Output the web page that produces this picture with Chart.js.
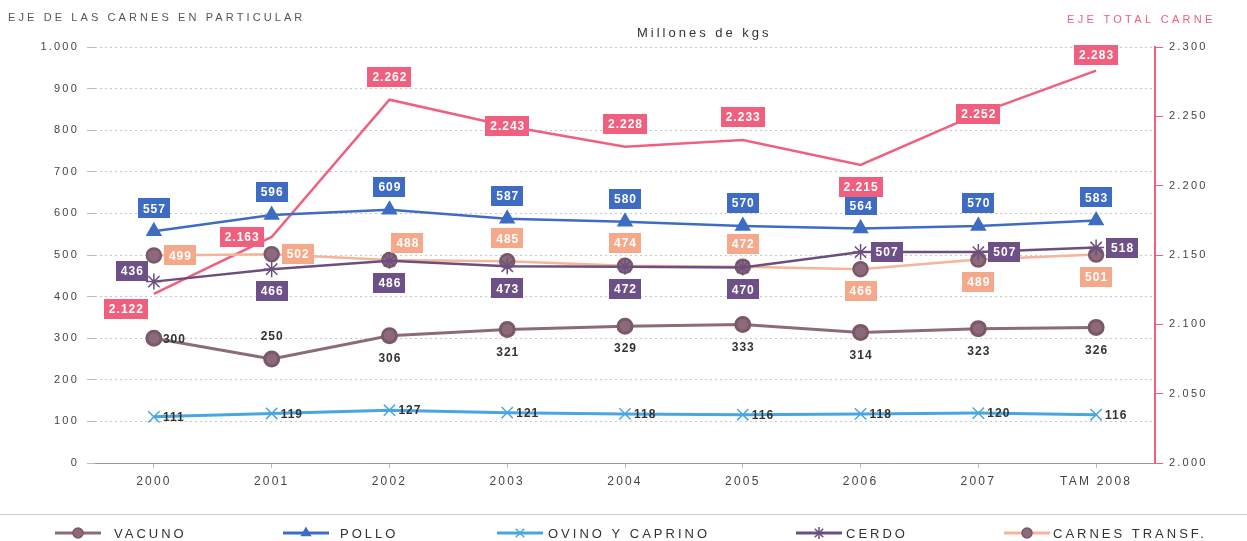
<!DOCTYPE html>
<html>
<head>
<meta charset="utf-8">
<script src="https://cdn.jsdelivr.net/npm/chart.js@4/dist/chart.umd.min.js"></script>
<style>
  html, body { margin: 0; padding: 0; background: #fff; }
  #wrap { width: 1247px; height: 541px; position: relative; }
</style>
</head>
<body>
<div id="wrap"><canvas id="mycanvas" width="1247" height="541"></canvas></div>
<script>
// categories and values
var years = ['2000', '2001', '2002', '2003', '2004', '2005', '2006', '2007', 'TAM 2008'];
var vacuno = [300, 250, 306, 321, 329, 333, 314, 323, 326];
var pollo = [557, 596, 609, 587, 580, 570, 564, 570, 583];
var ovino = [111, 119, 127, 121, 118, 116, 118, 120, 116];
var cerdo = [436, 466, 486, 473, 472, 470, 507, 507, 518];
var transf = [499, 502, 488, 485, 474, 472, 466, 489, 501];
var totalCarne = [2122, 2163, 2262, 2243, 2228, 2233, 2215, 2252, 2283];
var leftTicks = [0, 100, 200, 300, 400, 500, 600, 700, 800, 900, 1000];
var rightTicks = [2000, 2050, 2100, 2150, 2200, 2250, 2300];

// where each value label sits next to its point
var posVacuno = ['right', 'above', 'below', 'below', 'below', 'below', 'below', 'below', 'below'];
var posPollo = ['above', 'above', 'above', 'above', 'above', 'above', 'above', 'above', 'above'];
var posOvino = ['right', 'right', 'right', 'right', 'right', 'right', 'right', 'right', 'right'];
var posCerdo = ['leftUp', 'below', 'below', 'below', 'below', 'below', 'right', 'right', 'right'];
var posTransf = ['right', 'right', 'aboveR', 'above', 'above', 'above', 'below', 'below', 'below'];
var posTotal = ['belowL', 'left', 'above', 'center', 'above', 'above', 'below', 'center', 'upper'];

// legend placement (line start, text start)
var legendLineX = [55, 283, 497, 796, 1004];
var legendTextX = [114, 340, 548, 846, 1053];

function fmt(v) {
	return String(v).replace(/\B(?=(\d{3})+(?!\d))/g, '.');
}

var FONT = '"Liberation Sans", Arial, sans-serif';

var spacing = {
	id: 'spacing',
	beforeDraw: function(chart) {
		chart.ctx.letterSpacing = '2.2px';
	}
};

var valueLabels = {
	id: 'valueLabels',
	afterDatasetsDraw: function(chart) {
		var ctx = chart.ctx;
		ctx.save();
		ctx.letterSpacing = '1px';
		chart.data.datasets.forEach(function(ds, di) {
			var lc = ds.lbl;
			if (!lc) return;
			var meta = chart.getDatasetMeta(di);
			meta.data.forEach(function(pt, i) {
				var txt = fmt(ds.data[i]);
				ctx.font = 'bold 12px ' + FONT;
				var w = ctx.measureText(txt).width + 9;
				var h = 20;
				var x = pt.x, y = pt.y;
				var p = lc.pos[i];
				if (p === 'above') y -= 23;
				else if (p === 'upper') y -= 16;
				else if (p === 'below') y += 22;
				else if (p === 'right') x += w / 2 + 10;
				else if (p === 'left') x -= w / 2 + 8;
				else if (p === 'leftUp') { x -= w / 2 + 6; y -= 11; }
				else if (p === 'aboveR') { x += 18; y -= 17; }
				else if (p === 'belowL') { x -= 28; y += 15; }
				if (lc.box) {
					ctx.fillStyle = lc.box;
					ctx.fillRect(Math.round(x - w / 2), Math.round(y - h / 2), Math.round(w), h);
					ctx.fillStyle = '#fff';
				} else {
					ctx.fillStyle = '#333';
					if (p === 'right') x -= 6;
				}
				ctx.textAlign = 'center';
				ctx.textBaseline = 'middle';
				ctx.fillText(txt, x + 0.5, y + 1);
			});
		});
		ctx.restore();
	}
};

var extras = {
	id: 'extras',
	afterDraw: function(chart) {
		var ctx = chart.ctx;
		ctx.save();
		ctx.textBaseline = 'middle';
		ctx.textAlign = 'left';
		ctx.font = '11px ' + FONT;
		ctx.letterSpacing = '3.1px';
		ctx.fillStyle = '#555';
		ctx.fillText('EJE DE LAS CARNES EN PARTICULAR', 8, 18);
		ctx.fillStyle = '#f0607e';
		ctx.letterSpacing = '3.3px';
		ctx.fillText('EJE TOTAL CARNE', 1067, 20);
		ctx.fillStyle = '#333';
		ctx.font = '13px ' + FONT;
		ctx.letterSpacing = '3px';
		ctx.fillText('Millones de kgs', 637, 33);

		// separator and legend
		ctx.letterSpacing = '0px';
		ctx.strokeStyle = '#ccc';
		ctx.lineWidth = 1;
		ctx.beginPath();
		ctx.moveTo(0, 514.5);
		ctx.lineTo(1247, 514.5);
		ctx.stroke();
		chart.data.datasets.forEach(function(ds, di) {
			if (ds.yAxisID === 'yR') return;
			var x0 = legendLineX[di], y0 = 533;
			ctx.strokeStyle = ds.borderColor;
			ctx.lineWidth = 3;
			ctx.beginPath();
			ctx.moveTo(x0, y0);
			ctx.lineTo(x0 + 46, y0);
			ctx.stroke();
			ctx.fillStyle = ds.pointBackgroundColor;
			ctx.strokeStyle = ds.pointBorderColor;
			ctx.lineWidth = 1.5;
			var big = !(ds.pointStyle === 'circle' || ds.pointStyle === 'triangle');
			Chart.helpers.drawPoint(ctx, { pointStyle: ds.pointStyle, radius: big ? 6 : 5, borderWidth: 1.5, rotation: 0 }, x0 + 23, y0);
			ctx.fillStyle = '#333';
			ctx.font = '13px ' + FONT;
			ctx.letterSpacing = '3px';
			ctx.textAlign = 'left';
			ctx.fillText(ds.label, legendTextX[di], y0 + 1);
			ctx.letterSpacing = '0px';
		});
		ctx.restore();
	}
};

var ctx = document.getElementById('mycanvas');
var chart = new Chart(ctx, {
	type: 'line',
	data: {
		labels: years,
		datasets: [
			{
				label: 'VACUNO', data: vacuno, yAxisID: 'y',
				borderColor: '#8d6a7b', borderWidth: 3,
				pointStyle: 'circle', pointRadius: 7,
				pointBackgroundColor: '#8d6a7b', pointBorderColor: '#7a5868',
				lbl: { pos: posVacuno }
			},
			{
				label: 'POLLO', data: pollo, yAxisID: 'y',
				borderColor: '#3d6cc2', borderWidth: 2.5,
				pointStyle: 'triangle', pointRadius: 7,
				pointBackgroundColor: '#3d6cc2', pointBorderColor: '#3d6cc2',
				lbl: { pos: posPollo, box: '#3d6cc2' }
			},
			{
				label: 'OVINO Y CAPRINO', data: ovino, yAxisID: 'y',
				borderColor: '#4aa6e0', borderWidth: 3,
				pointStyle: 'crossRot', pointRadius: 8, pointBorderWidth: 1.5,
				pointBackgroundColor: '#4aa6e0', pointBorderColor: '#4aa6e0',
				lbl: { pos: posOvino }
			},
			{
				label: 'CERDO', data: cerdo, yAxisID: 'y',
				borderColor: '#6b4f7f', borderWidth: 2.5,
				pointStyle: 'star', pointRadius: 8, pointBorderWidth: 1.5,
				pointBackgroundColor: '#6b4f7f', pointBorderColor: '#6b4f7f',
				lbl: { pos: posCerdo, box: '#6e5088' }
			},
			{
				label: 'CARNES TRANSF.', data: transf, yAxisID: 'y',
				borderColor: '#f5b59a', borderWidth: 2.5,
				pointStyle: 'circle', pointRadius: 7,
				pointBackgroundColor: '#8d6a7b', pointBorderColor: '#7a5868',
				lbl: { pos: posTransf, box: '#f6a98a' }
			},
			{
				label: 'TOTAL CARNE', data: totalCarne, yAxisID: 'yR',
				borderColor: '#f0607e', borderWidth: 2.5,
				pointRadius: 0,
				lbl: { pos: posTotal, box: '#f0607e' }
			}
		]
	},
	options: {
		responsive: false,
		animation: false,
		layout: { padding: { top: 47, bottom: 48, left: 0, right: 0 } },
		plugins: {
			legend: { display: false },
			tooltip: { enabled: false }
		},
		scales: {
			x: {
				offset: true,
				grid: { display: true, drawOnChartArea: false, tickLength: 5, color: '#bbb' },
				border: { display: true, color: '#999' },
				ticks: { color: '#444', font: { family: FONT, size: 12 }, padding: 6 },
				afterFit: function(s) { s.height = 30; }
			},
			y: {
				position: 'left',
				min: 0, max: 1000,
				afterBuildTicks: function(s) { s.ticks = leftTicks.map(function(v) { return { value: v }; }); },
				grid: { color: '#c8c8c8', tickLength: 8, tickBorderDash: [], tickColor: '#bbb' },
				border: { display: false, dash: [2, 3] },
				ticks: {
					color: '#444', font: { family: FONT, size: 11 }, padding: 8,
					callback: function(v) { return fmt(v); }
				},
				afterFit: function(s) { s.width = 95; }
			},
			yR: {
				position: 'right',
				min: 2000, max: 2300,
				afterBuildTicks: function(s) { s.ticks = rightTicks.map(function(v) { return { value: v }; }); },
				grid: { drawOnChartArea: false, tickLength: 8, tickColor: '#f0607e' },
				border: { display: true, color: '#f0607e', width: 2 },
				ticks: {
					color: '#444', font: { family: FONT, size: 11 }, padding: 6,
					callback: function(v) { return fmt(v); }
				},
				afterFit: function(s) { s.width = 92; }
			}
		}
	},
	plugins: [spacing, valueLabels, extras]
});
</script>
</body>
</html>
